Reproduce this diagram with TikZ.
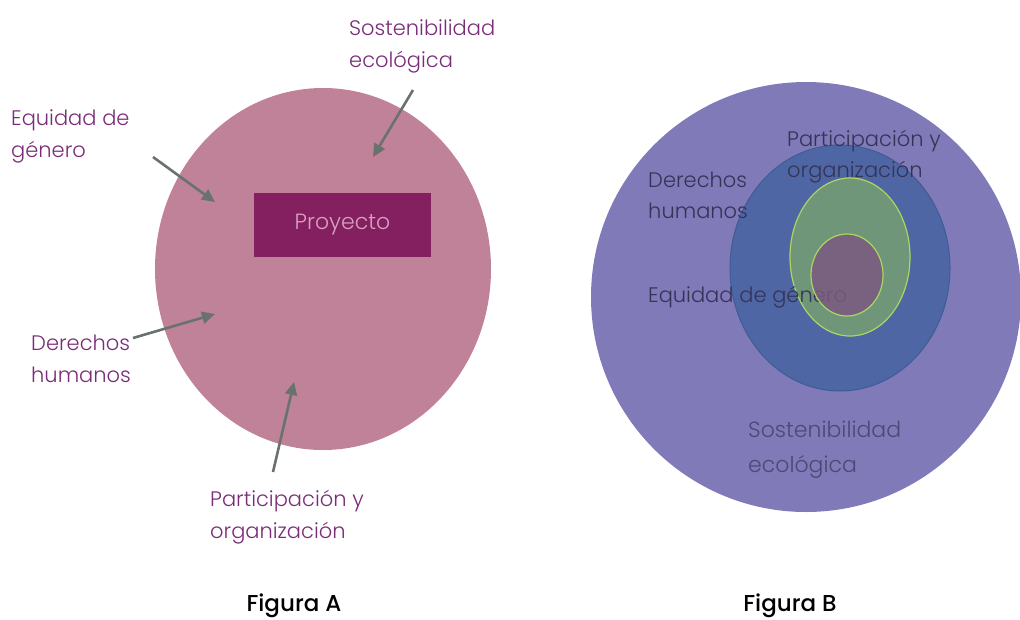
\documentclass[tikz,border=0pt]{standalone}
\usepackage{fontspec}
\setmainfont{Poppins}[UprightFont={* Light}, BoldFont={* Medium}]
\usetikzlibrary{arrows.meta}
\definecolor{pinkfill}{RGB}{191,130,153}
\definecolor{projfill}{RGB}{132,31,96}
\definecolor{projtext}{RGB}{217,160,196}
\definecolor{labpurple}{RGB}{122,44,120}
\definecolor{arrowgray}{RGB}{106,114,110}
\definecolor{outerfill}{RGB}{128,122,184}
\definecolor{bluefill}{RGB}{78,102,164}
\definecolor{blueedge}{RGB}{62,92,150}
\definecolor{greenfill}{RGB}{112,150,122}
\definecolor{greenedge}{RGB}{172,214,96}
\definecolor{innerfill}{RGB}{122,90,128}
\definecolor{btext}{RGB}{52,52,88}
\tikzset{
  lab/.style={anchor=base west, inner sep=0pt, align=left, text=labpurple,
    font=\fontsize{21}{32}\selectfont},
  blab/.style={anchor=base west, inner sep=0pt, align=left, text=btext,
    font=\fontsize{21}{31}\selectfont},
  pointer/.style={draw=arrowgray, line width=2.6pt,
    -{Triangle[length=13pt,width=12pt]}},
  caption/.style={anchor=base, inner sep=0pt, font=\fontsize{23}{26}\selectfont\bfseries}
}
\begin{document}
\begin{tikzpicture}[x=1pt,y=-1pt]
\useasboundingbox (0,0) rectangle (1020,619);
% ---------- Figura A ----------
\fill[pinkfill] (323,269) ellipse [x radius=168, y radius=181];
\node[fill=projfill, minimum width=177pt, minimum height=64pt, inner sep=0pt,
  text=projtext, font=\fontsize{22}{25}\selectfont] (proy) at (342.5,225) {Proyecto};
\node[lab] (sostA) at (349,67) {Sostenibilidad\\ecológica};
\node[lab] (equiA) at (11,157) {Equidad de\\género};
\node[lab] (dereA) at (31,382) {Derechos\\humanos};
\node[lab] (partA) at (210,538) {Participación y\\organización};
\coordinate (sostT) at (413,90);  \coordinate (sostH) at (373,157);
\coordinate (equiT) at (153,157); \coordinate (equiH) at (215,202);
\coordinate (dereT) at (133,338); \coordinate (dereH) at (215,314);
\coordinate (partT) at (273,472); \coordinate (partH) at (294,382);
\draw[pointer] (sostT) -- (sostH);
\draw[pointer] (equiT) -- (equiH);
\draw[pointer] (dereT) -- (dereH);
\draw[pointer] (partT) -- (partH);
\node[caption] (figA) at (294,611) {Figura A};
% ---------- Figura B ----------
\fill[outerfill] (806,297) circle [radius=215];
\filldraw[fill=bluefill, draw=blueedge, line width=1pt] (840,268) ellipse [x radius=110, y radius=123];
\filldraw[fill=greenfill, draw=greenedge, line width=1.2pt] (850,257) ellipse [x radius=60, y radius=79];
\node[blab] (partB) at (787,177) {Participación y\\organización};
\node[blab] (dereB) at (648,218) {Derechos\\humanos};
\node[blab] (equiB) at (648,302) {Equidad de género};
\filldraw[fill=innerfill, fill opacity=0.85, draw=greenedge, line width=1.2pt] (847,275) ellipse [x radius=36, y radius=41];
\node[blab, text=btext!70!outerfill, font=\fontsize{22}{35}\selectfont] (sostB) at (748,472) {Sostenibilidad\\ecológica};
\node[caption] (figB) at (790,611) {Figura B};
\end{tikzpicture}
\end{document}
